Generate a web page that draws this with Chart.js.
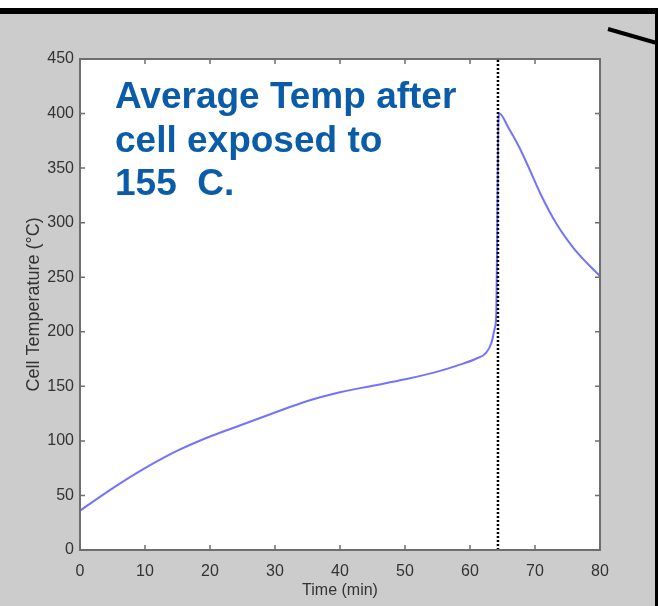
<!DOCTYPE html>
<html lang="en">
<head>
  <meta charset="UTF-8" />
  <title>Average Temp after cell exposed to 155 C</title>
  <script src="https://cdn.jsdelivr.net/npm/chart.js"></script>
  <style>
    * {
      margin: 0;
      padding: 0;
      box-sizing: border-box;
    }
    body {
      width: 658px;
      height: 606px;
      background: #fff;
      overflow: hidden;
      position: relative;
    }
    .frame {
      position: absolute;
      top: 8px;
      left: 0;
      width: 658px;
      height: 598px;
      background: #cccccc;
      border-top: 6px solid #000;
      border-right: 3px solid #000;
    }
    .slash {
      position: absolute;
      left: 608px;
      top: 27px;
      width: 54px;
      height: 4px;
      background: #000;
      transform: rotate(16deg);
      transform-origin: left center;
    }
    #chartTemp {
      position: absolute;
      top: 0;
      left: 0;
    }
  </style>
</head>
<body>
  <div class="frame"></div>
  <div class="slash"></div>
  <canvas id="chartTemp" width="658" height="606"></canvas>

  <script>
    // time in minutes, temperature in deg C
    const timeMin = [0, 5, 10, 15, 20, 25, 30, 35, 40, 45, 50, 55, 58, 61,
                     62.5, 63.3, 63.8, 64.05, 64.2, 64.35, 64.5, 66, 67.5, 69, 70.8, 73.3, 75.9, 78, 80];
    const cellTemp = [36, 56.5, 75, 91, 104, 115, 126, 136.5, 144.5, 150.5, 156.5, 163.5, 169, 175.5,
                      181, 190, 203, 218, 300, 390, 400, 386, 370, 351, 327, 299, 277, 263, 251];

    // dotted marker where the cell runs away
    const markerX = [64.3, 64.3];
    const markerY = [0, 450];

    const xTicks = [0, 10, 20, 30, 40, 50, 60, 70, 80];
    const yTicks = [0, 50, 100, 150, 200, 250, 300, 350, 400, 450];

    const noteLines = ["Average Temp after", "cell exposed to", "155  C."];

    const sans = "'Liberation Sans', Arial, sans-serif";

    const curvePoints = timeMin.map((t, i) => ({ x: t, y: cellTemp[i] }));
    const markerPoints = markerX.map((t, i) => ({ x: t, y: markerY[i] }));

    // white plot area, matlab style box with inward ticks, and the note text
    const boxPlugin = {
      id: "matlabBox",
      beforeDatasetsDraw(chart) {
        const a = chart.chartArea;
        const ctx = chart.ctx;
        ctx.save();
        ctx.fillStyle = "#fff";
        ctx.fillRect(a.left, a.top, a.right - a.left, a.bottom - a.top);
        ctx.restore();
      },
      afterDraw(chart) {
        const a = chart.chartArea;
        const ctx = chart.ctx;
        const xs = chart.scales.x;
        const ys = chart.scales.y;
        ctx.save();
        ctx.strokeStyle = "#6e6e6e";
        ctx.lineWidth = 2;
        ctx.strokeRect(a.left, a.top, a.right - a.left, a.bottom - a.top);

        ctx.lineWidth = 1.5;
        ctx.beginPath();
        xTicks.forEach(v => {
          const px = xs.getPixelForValue(v);
          ctx.moveTo(px, a.bottom); ctx.lineTo(px, a.bottom - 5);
          ctx.moveTo(px, a.top); ctx.lineTo(px, a.top + 5);
        });
        yTicks.forEach(v => {
          const py = ys.getPixelForValue(v);
          ctx.moveTo(a.left, py); ctx.lineTo(a.left + 5, py);
          ctx.moveTo(a.right, py); ctx.lineTo(a.right - 5, py);
        });
        ctx.stroke();

        ctx.fillStyle = "#0b5ca8";
        ctx.font = "bold 37px " + sans;
        ctx.textBaseline = "alphabetic";
        ctx.textAlign = "left";
        noteLines.forEach((line, i) => {
          ctx.fillText(line, 115, 108 + i * 43.5);
        });
        ctx.restore();
      }
    };

    new Chart(document.getElementById("chartTemp").getContext("2d"), {
      type: "line",
      data: {
        datasets: [
          {
            label: "marker",
            data: markerPoints,
            borderColor: "#000",
            borderWidth: 2.5,
            borderDash: [2, 2],
            pointRadius: 0
          },
          {
            label: "Cell Temperature",
            data: curvePoints,
            borderColor: "rgba(80, 80, 255, 0.8)",
            borderWidth: 2,
            pointRadius: 0,
            cubicInterpolationMode: "monotone"
          }
        ]
      },
      options: {
        responsive: false,
        animation: false,
        layout: {
          padding: { left: 0, top: 59, right: 58, bottom: 0 }
        },
        plugins: {
          legend: { display: false },
          tooltip: { enabled: false }
        },
        scales: {
          x: {
            type: "linear",
            min: 0,
            max: 80,
            afterFit: s => { s.height = 56; },
            afterBuildTicks: s => { s.ticks = xTicks.map(v => ({ value: v })); },
            grid: { display: false, drawTicks: false },
            border: { display: false },
            ticks: {
              padding: 14,
              color: "#333",
              font: { family: sans, size: 16, lineHeight: 1 }
            },
            title: {
              display: true,
              text: "Time (min)",
              color: "#333",
              padding: { top: 0, bottom: 6 },
              font: { family: sans, size: 16, lineHeight: 1.2 }
            }
          },
          y: {
            type: "linear",
            min: 0,
            max: 450,
            afterFit: s => { s.width = 80; },
            afterBuildTicks: s => { s.ticks = yTicks.map(v => ({ value: v })); },
            grid: { display: false, drawTicks: false },
            border: { display: false },
            ticks: {
              padding: 6,
              color: "#333",
              font: { family: sans, size: 16, lineHeight: 1 }
            },
            title: {
              display: true,
              text: "Cell Temperature (\u00B0C)",
              color: "#333",
              padding: { top: 23, bottom: 0 },
              font: { family: sans, size: 18, lineHeight: 1.2 }
            }
          }
        }
      },
      plugins: [boxPlugin]
    });
  </script>
</body>
</html>
